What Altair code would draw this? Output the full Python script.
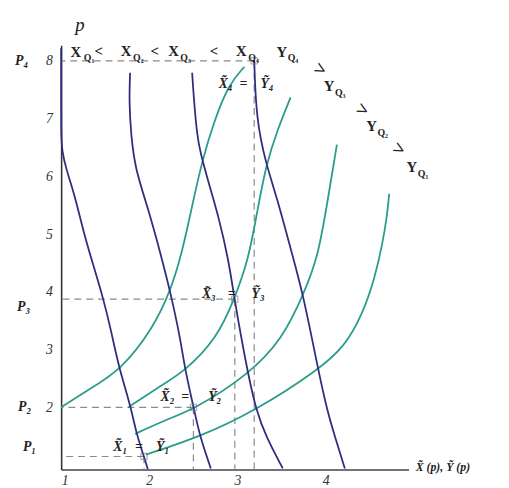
import altair as alt
import pandas as pd

# ---------------- data ----------------
# demand curves X_Q1..X_Q4 (dark blue): quantity x, price p
xq1_x = [1.0, 1.0, 1.0, 1.011, 1.056, 1.112, 1.168, 1.257, 1.369, 1.48, 1.57, 1.648, 1.793, 1.849, 1.939, 1.983]
xq1_p = [8.22, 7.28, 6.72, 6.43, 6.14, 5.87, 5.58, 5.02, 4.44, 3.875, 3.31, 2.73, 2.0, 1.57, 1.15, 0.93]
xq2_x = [1.782, 1.771, 1.793, 1.838, 1.983, 2.117, 2.24, 2.352, 2.408, 2.508, 2.575, 2.698]
xq2_p = [7.795, 7.284, 6.721, 6.142, 5.46, 4.727, 3.994, 3.193, 2.631, 1.966, 1.489, 0.943]
xq3_x = [2.486, 2.508, 2.542, 2.575, 2.676, 2.788, 2.899, 2.966, 3.045, 3.123, 3.212, 3.324, 3.514]
xq3_p = [7.795, 7.284, 6.721, 6.432, 5.869, 5.29, 4.557, 3.875, 3.193, 2.562, 1.949, 1.489, 0.943]
xq4_x = [3.19, 3.212, 3.324, 3.436, 3.637, 3.749, 3.916, 4.017, 4.106, 4.218]
xq4_p = [8.017, 6.994, 6.21, 5.699, 4.557, 3.926, 2.648, 1.949, 1.489, 0.943]

# supply curves Y_Q4..Y_Q1 (teal)
yq4_x = [1.0, 1.291, 1.682, 2.039, 2.24, 2.374, 2.486, 2.598, 2.732, 2.899, 3.078]
yq4_p = [2.0, 2.29, 2.648, 3.364, 4.011, 4.693, 5.494, 6.261, 6.943, 7.591, 7.897]
yq3_x = [1.76, 2.095, 2.408, 2.765, 2.966, 3.123, 3.212, 3.324, 3.458, 3.603]
yq3_p = [2.0, 2.341, 2.631, 3.193, 3.875, 4.557, 5.29, 6.21, 6.824, 7.369]
yq2_x = [1.838, 2.173, 2.508, 3.123, 3.514, 3.749, 3.916, 4.028, 4.128]
yq2_p = [1.54, 1.778, 1.966, 2.562, 3.193, 3.96, 4.608, 5.63, 6.551]
yq1_x = [1.961, 2.575, 3.212, 3.916, 4.218, 4.419, 4.553, 4.642, 4.698, 4.721]
yq1_p = [1.182, 1.489, 1.949, 2.648, 3.057, 3.619, 4.216, 4.812, 5.324, 5.699]

# equilibria X_i = Y_i at prices P_i
eq_x = [1.94, 2.50, 2.97, 3.19]
eq_p = [1.15, 2.0, 3.875, 8.0]

x_ticks = [1, 2, 3, 4]
p_ticks = [2, 3, 4, 5, 6, 7, 8]

# labels
big_t = ["X", "X", "X", "X", "Y", "Y", "Y", "Y"]
big_x = [1.168, 1.737, 2.274, 3.045, 3.503, 4.039, 4.52, 4.978]
big_p = [8.153, 8.17, 8.17, 8.17, 8.153, 7.557, 6.875, 6.159]
sub_t = ["Q₁", "Q₂", "Q₃", "Q₄", "Q₄", "Q₃", "Q₂", "Q₁"]
sub_x = [1.257, 1.816, 2.352, 3.123, 3.57, 4.106, 4.587, 5.045]
sub_p = [8.051, 8.051, 8.051, 8.051, 8.051, 7.437, 6.755, 6.04]
lt_x = [1.425, 2.061, 2.732]
lt_p = [8.17, 8.17, 8.17]
gt_x = [3.939, 4.419, 4.832]
gt_p = [7.846, 7.147, 6.466]
eqlab_t = ["X\u0303₁", "=", "Ỹ₁", "X\u0303₂", "=", "Ỹ₂", "X\u0303₃", "=", "Ỹ₃", "X\u0303₄", "=", "Ỹ₄"]
eqlab_x = [1.67, 1.883, 2.151, 2.207, 2.408, 2.743, 2.676, 2.933, 3.235, 2.866, 3.067, 3.335]
eqlab_p = [1.318] * 3 + [2.187] * 3 + [3.96] * 3 + [7.6] * 3
plab_t = ["P₄", "P₃", "P₂", "P₁"]
plab_x = [0.553, 0.575, 0.587, 0.642]
plab_p = [8.0, 3.739, 2.0, 1.318]

# ---------------- styling ----------------
BLUE = "#2f2e7e"
TEAL = "#2a9c8c"
GRAY = "#8a8a8a"
SERIF = "Liberation Serif"
W, H = 353, 431

def curves(names, xs, ps):
    rows = []
    for n, xx, pp in zip(names, xs, ps):
        for i, (a, b) in enumerate(zip(xx, pp)):
            rows.append({"curve": n, "i": i, "x": a, "p": b})
    return pd.DataFrame(rows)

blue_df = curves(["XQ1", "XQ2", "XQ3", "XQ4"], [xq1_x, xq2_x, xq3_x, xq4_x], [xq1_p, xq2_p, xq3_p, xq4_p])
teal_df = curves(["YQ4", "YQ3", "YQ2", "YQ1"], [yq4_x, yq3_x, yq2_x, yq1_x], [yq4_p, yq3_p, yq2_p, yq1_p])
eq_df = pd.DataFrame({"x": eq_x, "p": eq_p})

X = alt.X("x:Q", scale=alt.Scale(domain=[1.0, 4.94], nice=False, zero=False),
          axis=alt.Axis(values=x_ticks, format="d", title=None, grid=False, ticks=False,
                        labelFont=SERIF, labelFontStyle="italic", labelFontSize=14,
                        labelColor="#333", labelPadding=4, domainColor="#444", domainWidth=1.5))
Y = alt.Y("p:Q", scale=alt.Scale(domain=[0.926, 8.27], nice=False, zero=False),
          axis=alt.Axis(values=p_ticks, format="d", title=None, grid=False, ticks=False,
                        labelFont=SERIF, labelFontStyle="italic", labelFontSize=14,
                        labelColor="#333", labelPadding=9, domainColor="#333", domainWidth=1.6))

blue = alt.Chart(blue_df).mark_line(color=BLUE, strokeWidth=1.8, interpolate="basis").encode(
    x=X, y=Y, detail="curve:N", order="i:Q")
teal = alt.Chart(teal_df).mark_line(color=TEAL, strokeWidth=1.8, interpolate="basis").encode(
    x=X, y=Y, detail="curve:N", order="i:Q")

hrule = alt.Chart(eq_df).mark_rule(color=GRAY, strokeWidth=1.2, strokeDash=[7, 5]).encode(
    x=X, x2=alt.value(0), y=Y)
vrule = alt.Chart(eq_df).mark_rule(color=GRAY, strokeWidth=1.2, strokeDash=[7, 5]).encode(
    x=X, y=Y, y2=alt.value(H))
boxes = alt.Chart(eq_df).mark_point(shape="square", filled=False, size=40, color="#777", strokeWidth=1).encode(
    x=X, y=Y)

def text_layer(t, xs, ps, **kw):
    df = pd.DataFrame({"t": t, "x": xs, "p": ps})
    return alt.Chart(df).mark_text(font=SERIF, baseline="middle", color="#222", **kw).encode(
        x=X, y=Y, text="t:N")

big = text_layer(big_t, big_x, big_p, fontSize=15, fontWeight="bold", align="center")
subs = text_layer(sub_t, sub_x, sub_p, fontSize=10, fontWeight="bold", align="left")
lts = text_layer(["<"] * 3, lt_x, lt_p, fontSize=15, fontWeight="bold", align="center")
gts = text_layer([">"] * 3, gt_x, gt_p, fontSize=20, fontWeight="bold", align="center", angle=28)
eqlabs = text_layer(eqlab_t, eqlab_x, eqlab_p, fontSize=14, fontWeight="bold", fontStyle="italic", align="center")
plabs = text_layer(plab_t, plab_x, plab_p, fontSize=14, fontWeight="bold", fontStyle="italic", align="center")
ptitle = text_layer(["p"], [1.212], [8.613], fontSize=19, fontStyle="italic", align="center")
xtitle = text_layer(["X\u0303 (p), Ỹ (p)"], [5.022], [0.96], fontSize=12, fontWeight="bold", fontStyle="italic", align="left")

chart = alt.layer(hrule, vrule, teal, blue, boxes, big, subs, lts, gts, eqlabs, plabs, ptitle, xtitle).properties(
    width=W, height=H,
    autosize=alt.AutoSizeParams(type="none"),
    padding={"left": 54, "top": 34, "right": 94, "bottom": 16},
    background="white",
).configure_view(stroke=None)

chart.save("out.html", embed_options={"renderer": "svg", "actions": False})
